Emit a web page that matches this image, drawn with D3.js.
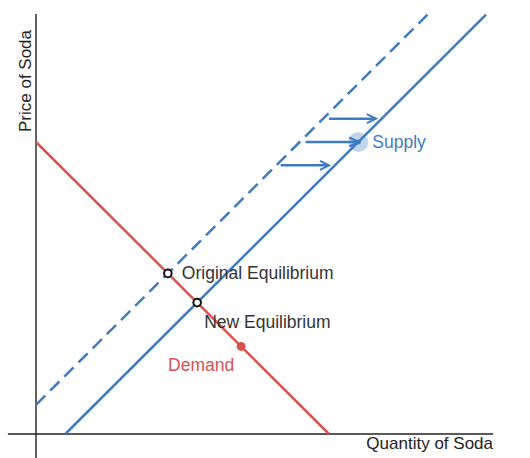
<!DOCTYPE html>
<html><head><meta charset="utf-8">
<script src="https://cdn.jsdelivr.net/npm/d3@7/dist/d3.min.js"></script>
<style>body{margin:0;background:#fff}svg{display:block}text{font-family:Arial,"Liberation Sans",sans-serif}</style>
</head><body>
<svg id="c" width="530" height="458"></svg>
<script>
// Data (units of quantity / price)
const demand = [[0,10],[10,0]];
const supplyOriginal = [[0,1],[13.36,14.36]];   // dashed
const supplyNew = [[1,0],[15.36,14.36]];        // solid
const originalEq = [4.5,5.5];
const newEq = [5.5,4.5];
const demandMarker = [7,3];
const supplyMarker = [11,10];
const shiftArrows = [[[10,10.8],[11.6,10.8]],[[9.2,10],[11,10]],[[8.35,9.2],[10,9.2]]];
const axisLabels = {x:"Quantity of Soda", y:"Price of Soda"};

const blue="#3f7cbf", red="#d9534f";
const svg=d3.select("#c");
const x=d3.scaleLinear().domain([0,10]).range([36,329]);
const y=d3.scaleLinear().domain([0,10]).range([434,142]);

svg.append("defs").append("marker").attr("id","ah").attr("viewBox","0 0 12 12")
 .attr("refX",10).attr("refY",6).attr("markerWidth",12).attr("markerHeight",12)
 .attr("markerUnits","userSpaceOnUse").attr("orient","auto")
 .append("path").attr("d","M1,1.5 L10,6 L1,10.5").attr("fill","none").attr("stroke",blue).attr("stroke-width",2.2);

// axes
svg.append("line").attr("x1",x(-0.96)).attr("x2",x(15.6)).attr("y1",y(0)).attr("y2",y(0)).attr("stroke","#222").attr("stroke-width",1.4);
svg.append("line").attr("x1",x(0)).attr("x2",x(0)).attr("y1",y(-0.84)).attr("y2",y(14.38)).attr("stroke","#222").attr("stroke-width",1.4);

const line=d3.line().x(d=>x(d[0])).y(d=>y(d[1]));
svg.append("path").attr("d",line(demand)).attr("stroke",red).attr("stroke-width",2.5).attr("fill","none");
svg.append("path").attr("d",line(supplyOriginal)).attr("stroke",blue).attr("stroke-width",2.5).attr("fill","none").attr("stroke-dasharray","13,7");
svg.append("path").attr("d",line(supplyNew)).attr("stroke",blue).attr("stroke-width",2.5).attr("fill","none");

shiftArrows.forEach(a=>svg.append("path").attr("d",line(a)).attr("stroke",blue).attr("stroke-width",2.5).attr("fill","none").attr("marker-end","url(#ah)"));

svg.append("circle").attr("cx",x(supplyMarker[0])).attr("cy",y(supplyMarker[1])).attr("r",10).attr("fill",blue).attr("fill-opacity",0.33);
svg.append("circle").attr("cx",x(supplyMarker[0])).attr("cy",y(supplyMarker[1])).attr("r",2.5).attr("fill",blue);
svg.append("circle").attr("cx",x(demandMarker[0])).attr("cy",y(demandMarker[1])).attr("r",4.5).attr("fill",red);
[originalEq,newEq].forEach(p=>svg.append("circle").attr("cx",x(p[0])).attr("cy",y(p[1])).attr("r",3.8).attr("fill","#fff").attr("stroke","#111").attr("stroke-width",2));

function label(t,px,py,col,size,anchor){return svg.append("text").attr("x",px).attr("y",py).attr("fill",col).attr("font-size",size).attr("text-anchor",anchor||"start").text(t);}
label("Original Equilibrium",x(originalEq[0])+14,y(originalEq[1])+6,"#333",17.5);
label("New Equilibrium",x(newEq[0])+7,y(newEq[1])+25,"#333",17.5);
label("Demand",x(demandMarker[0])-73,y(demandMarker[1])+25,red,17.5);
label("Supply",x(supplyMarker[0])+14,y(supplyMarker[1])+6,blue,17.5);
label(axisLabels.x,493,449,"#222",17,"end");
svg.append("text").attr("transform","translate(31,81) rotate(-90)").attr("text-anchor","middle").attr("font-size",17).attr("fill","#222").text(axisLabels.y);
</script></body></html>
